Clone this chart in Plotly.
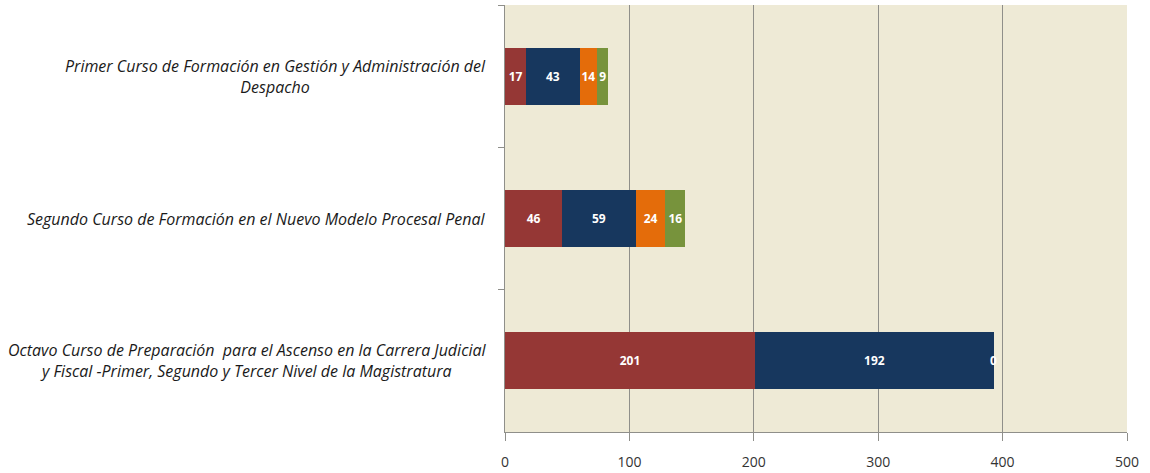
import plotly.graph_objects as go

categories = [
    "Primer Curso de Formación en Gestión y Administración del<br>Despacho",
    "Segundo Curso de Formación en el Nuevo Modelo Procesal Penal",
    "Octavo Curso de Preparación  para el Ascenso en la Carrera Judicial<br>y Fiscal -Primer, Segundo y Tercer Nivel de la Magistratura",
]
series_red = [17, 46, 201]
series_navy = [43, 59, 192]
series_orange = [14, 24, 0]
series_green = [9, 16, None]
x_ticks = [0, 100, 200, 300, 400, 500]

colors = ["#953735", "#17375E", "#E46C0A", "#77933C"]
series = [series_red, series_navy, series_orange, series_green]

fig = go.Figure()
for vals, col in zip(series, colors):
    fig.add_trace(go.Bar(
        y=categories, x=vals, orientation="h",
        marker=dict(color=col, line=dict(width=0)),
        text=[("" if v is None else "<b>%d</b>" % v) for v in vals],
        textposition="inside", insidetextanchor="middle",
        textfont=dict(color="white", size=12, family="Open Sans"),
        constraintext="none", cliponaxis=False,
        showlegend=False, hoverinfo="skip",
    ))

# zero-valued segment label at bar end
for i, v in enumerate(series_orange):
    if v == 0:
        fig.add_annotation(x=series_red[i] + series_navy[i], y=categories[i],
                           text="<b>%d</b>" % v, showarrow=False, xanchor="center",
                           font=dict(color="white", size=12, family="Open Sans"))

# category labels (centered multi-line, right-anchored)
for c in categories:
    fig.add_annotation(x=-0.027, xref="paper", y=c, yref="y", text="<i>%s</i>" % c,
                       showarrow=False, xanchor="right", align="center",
                       font=dict(family="Open Sans", size=16, color="#1a1a1a"))

fig.update_layout(
    barmode="stack", bargap=0.6,
    width=1150, height=473,
    margin=dict(l=505, r=23, t=5, b=41, autoexpand=False),
    paper_bgcolor="white", plot_bgcolor="#EEEAD6",
    font=dict(family="Open Sans", size=14, color="#333333"),
)
fig.update_xaxes(range=[0, 500], tickvals=x_ticks, showgrid=True,
                 gridcolor="#8F8F8A", gridwidth=1, zeroline=False,
                 showline=True, linecolor="#8F8F8A", ticks="outside",
                 ticklen=8, tickcolor="#8F8F8A", ticklabelstandoff=9,
                 automargin=False,
                 tickfont=dict(family="Open Sans", size=14, color="#333333"))
fig.update_yaxes(autorange="reversed", showticklabels=False, ticks="outside",
                 tickson="boundaries", ticklen=6, tickcolor="#8F8F8A",
                 showline=True, linecolor="#8F8F8A", showgrid=False,
                 automargin=False)

fig.write_html("out.html", config={"displayModeBar": False},
               post_script="document.body.style.margin='0';")
